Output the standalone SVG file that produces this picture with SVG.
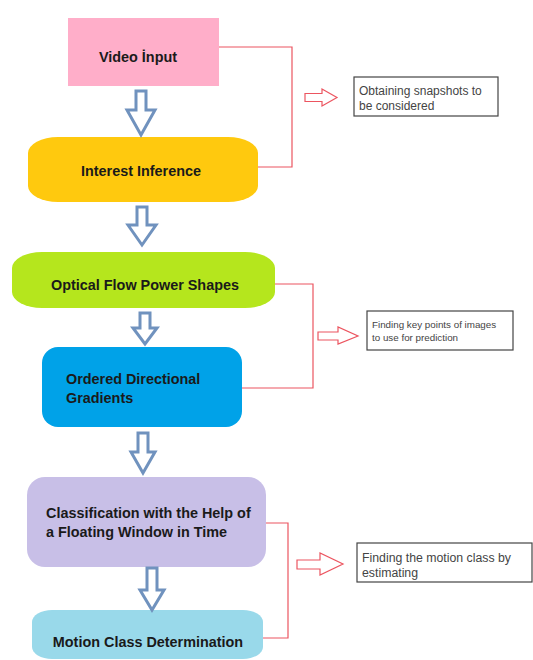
<svg xmlns="http://www.w3.org/2000/svg" width="533" height="660" viewBox="0 0 533 660">
<style>
.t{font-family:"Liberation Sans",Arial,sans-serif;font-weight:bold;font-size:14.4px;fill:#1a1a1a}
.n{font-family:"Liberation Sans",Arial,sans-serif;fill:#444;font-size:12px}
.flow{fill:#fff;stroke:#7092BE;stroke-width:3;stroke-linejoin:miter}
.br{fill:none;stroke:#ec5560;stroke-width:1.2}
.ra{fill:#fff;stroke:#ec5560;stroke-width:1.2}
.box{fill:#fff;stroke:#444;stroke-width:1.2}
</style>
<g id="video-input"><rect x="68" y="18" width="151" height="68" fill="#FFAEC9"/><text class="t" x="138" y="62" text-anchor="middle">Video İnput</text></g>
<g id="interest-inference"><rect x="28" y="137" width="230" height="65" rx="30" ry="16" fill="#FFC90E"/><text class="t" x="141" y="176" text-anchor="middle">Interest Inference</text></g>
<g id="optical-flow"><rect x="12" y="252" width="263" height="56" rx="30" ry="16" fill="#B5E61D"/><text class="t" x="145" y="290" text-anchor="middle">Optical Flow Power Shapes</text></g>
<g id="ordered-gradients"><rect x="42" y="347" width="200" height="80" rx="16" fill="#00A2E8"/><text class="t" x="66" y="384">Ordered Directional</text><text class="t" x="66" y="403">Gradients</text></g>
<g id="classification"><rect x="27" y="477" width="239" height="90" rx="18" fill="#C8BFE7"/><text class="t" x="46" y="518">Classification with the Help of</text><text class="t" x="46" y="537">a Floating Window in Time</text></g>
<g id="motion-class"><rect x="32" y="610" width="231" height="49" rx="20" ry="12" fill="#99D9EA"/><text class="t" x="148" y="647" text-anchor="middle">Motion Class Determination</text></g>
<g id="note-1"><rect class="box" x="354" y="77" width="144" height="39"/><text class="n" x="359" y="95">Obtaining snapshots to</text><text class="n" x="359" y="109.5">be considered</text></g>
<g id="note-2"><rect class="box" x="367" y="311" width="146" height="39"/><text class="n" x="372" y="328" style="font-size:9.8px">Finding key points of images</text><text class="n" x="372" y="341" style="font-size:9.8px">to use for prediction</text></g>
<g id="note-3"><rect class="box" x="357" y="543" width="175" height="39"/><text class="n" x="362" y="561.5" style="font-size:12.3px">Finding the motion class by</text><text class="n" x="362" y="576.5" style="font-size:12.3px">estimating</text></g>
<g id="connectors">
<path class="flow" d="M136,91H146V110H155L141,135L127,110H136Z"/>
<path class="flow" d="M137,207H147V225H156L142,245L128,225H137Z"/>
<path class="flow" d="M140,313H150V328H157L145,344L133,328H140Z"/>
<path class="flow" d="M138,433H148V452H155L143,473L131,452H138Z"/>
<path class="flow" d="M147,568H157V590H164L152,610L140,590H147Z"/>
<path class="br" d="M219,47H292V167H258"/>
<path class="br" d="M275,284H313V388H242"/>
<path class="br" d="M266,523H288V638H263"/>
<path class="ra" d="M305,93.5H322V89L337,97.5L322,106V101.5H305Z"/>
<path class="ra" d="M318,332H338V327L358,336L338,344V340H318Z"/>
<path class="ra" d="M297,560H320V553L343,564L320,575V569H297Z"/>
</g>
</svg>
